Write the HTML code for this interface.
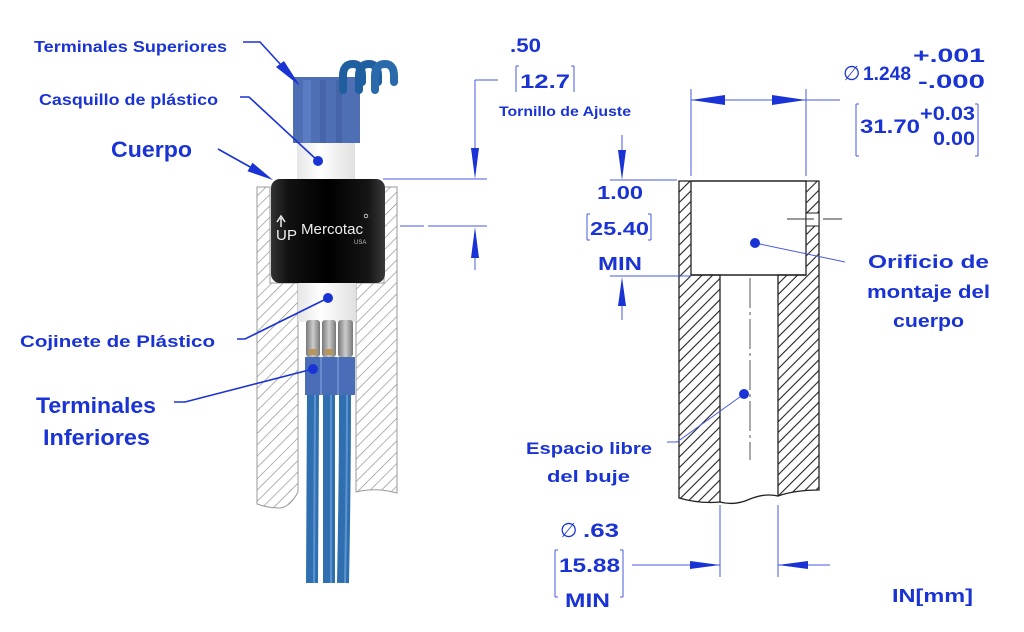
<!DOCTYPE html>
<html><head><meta charset="utf-8"><style>
html,body{margin:0;padding:0;background:#fff;}
svg{display:block;}
text{font-family:"Liberation Sans",sans-serif;font-weight:bold;fill:#1a33d4;}
</style></head><body>
<svg width="1024" height="632" viewBox="0 0 1024 632" xmlns="http://www.w3.org/2000/svg">
<defs>
<pattern id="hg" width="8" height="8" patternUnits="userSpaceOnUse" patternTransform="rotate(45)">
<rect width="8" height="8" fill="#fff"/><line x1="0" y1="0" x2="0" y2="8" stroke="#8a8a8a" stroke-width="1.3"/></pattern>
<pattern id="hb" width="7.5" height="7.5" patternUnits="userSpaceOnUse" patternTransform="rotate(45)">
<rect width="7.5" height="7.5" fill="#fff"/><line x1="1" y1="0" x2="1" y2="7.5" stroke="#222" stroke-width="1.1"/></pattern>
<linearGradient id="blk" x1="0" x2="1"><stop offset="0" stop-color="#333"/><stop offset="0.15" stop-color="#111"/><stop offset="0.5" stop-color="#000"/><stop offset="0.85" stop-color="#151515"/><stop offset="1" stop-color="#3a3a3a"/></linearGradient>
<linearGradient id="wht" x1="0" x2="1"><stop offset="0" stop-color="#e6e6e6"/><stop offset="0.4" stop-color="#fff"/><stop offset="1" stop-color="#e0e0e0"/></linearGradient>
<linearGradient id="gry" x1="0" x2="1"><stop offset="0" stop-color="#777"/><stop offset="0.5" stop-color="#ccc"/><stop offset="1" stop-color="#777"/></linearGradient>
</defs>

<path d="M257,187 H270 V283 H298 V492 Q290,507 280,508 Q268,508 257,504 Z" fill="url(#hg)" stroke="#999" stroke-width="1"/>
<path d="M384,187 H397 V493 Q376,487 356,492 V283 H384 Z" fill="url(#hg)" stroke="#999" stroke-width="1"/>
<rect x="297" y="138" width="58" height="45" fill="url(#wht)"/>
<rect x="298" y="280" width="58" height="42" fill="url(#wht)"/>
<rect x="293" y="77" width="67" height="66" fill="#4f6fb4"/>
<rect x="303" y="80" width="8" height="63" fill="#5a7cc2"/>
<rect x="320" y="80" width="6" height="63" fill="#4565a8"/>
<rect x="336" y="80" width="6" height="63" fill="#4565a8"/>
<path d="M343,90 V76 Q343,64 353,64 Q362,64 362,76 V82" fill="none" stroke="#1f5f9f" stroke-width="8" stroke-linecap="round"/>
<path d="M359,90 V76 Q359,64 369,64 Q378,64 378,76 V82" fill="none" stroke="#1f5f9f" stroke-width="8" stroke-linecap="round"/>
<path d="M375,90 V76 Q375,64 385,64 Q394,64 394,76 V82" fill="none" stroke="#2a6aaa" stroke-width="8" stroke-linecap="round"/>
<rect x="271" y="179" width="114" height="104" rx="9" fill="url(#blk)"/>
<text x="276" y="240" style="fill:#eee;font-weight:normal;font-size:15px">U</text>
<text x="287" y="240" style="fill:#eee;font-weight:normal;font-size:15px">P</text>
<path d="M281,227 V218 M277,222 L281,216 L285,222" stroke="#eee" stroke-width="1.5" fill="none"/>
<text x="301" y="234" style="fill:#eee;font-weight:normal;font-size:15px" textLength="62" lengthAdjust="spacingAndGlyphs">Mercotac</text>
<text x="354" y="244" style="fill:#bbb;font-weight:normal;font-size:6px">USA</text>
<circle cx="366" cy="216" r="1.8" fill="none" stroke="#ddd" stroke-width="0.8"/>
<rect x="306" y="320" width="14" height="37" rx="3" fill="url(#gry)"/>
<rect x="322" y="320" width="14" height="37" rx="3" fill="url(#gry)"/>
<rect x="338" y="320" width="15" height="37" rx="3" fill="url(#gry)"/>
<rect x="309" y="349" width="8" height="6" fill="#b8955a"/><rect x="325" y="349" width="8" height="6" fill="#b8955a"/>
<rect x="305" y="357" width="50" height="38" fill="#4a6db8"/>
<line x1="321" y1="357" x2="321" y2="395" stroke="#6a8ccc" stroke-width="2"/>
<line x1="338" y1="357" x2="338" y2="395" stroke="#6a8ccc" stroke-width="2"/>
<path d="M313,395 L312,583" stroke="#2f6fb0" stroke-width="12"/>
<path d="M329,395 L329,583" stroke="#2f6fb0" stroke-width="12"/>
<path d="M345,395 Q345,480 343,583" stroke="#2f6fb0" stroke-width="12" fill="none"/>
<path d="M315,395 L314,583 M331,395 L331,583 M347,395 Q347,480 345,583" stroke="#5a93d0" stroke-width="2" fill="none"/>

<g stroke="#1a33d4" stroke-width="1.6" fill="none">
<path d="M243,42 H260 L282,66"/>
<path d="M240,97 H249 L318,161"/>
<path d="M218,149 L252,168"/>
<path d="M237,339 H245 L328,298"/>
<path d="M174,402 H185 L313,369"/>
</g>
<polygon points="300,86 284,61 276,67" fill="#1a33d4"/>
<polygon points="273,180 252.5,162.7 247.5,171.3" fill="#1a33d4"/>
<circle cx="318" cy="161" r="5" fill="#1a33d4"/>
<circle cx="328" cy="298" r="5" fill="#1a33d4"/>
<circle cx="313" cy="369" r="5" fill="#1a33d4"/>
<text x="34" y="52" font-size="16" textLength="193" lengthAdjust="spacingAndGlyphs">Terminales Superiores</text>
<text x="39" y="105" font-size="16" textLength="179" lengthAdjust="spacingAndGlyphs">Casquillo de plástico</text>
<text x="111" y="157" font-size="22" textLength="81" lengthAdjust="spacingAndGlyphs">Cuerpo</text>
<text x="20" y="347" font-size="17" textLength="195" lengthAdjust="spacingAndGlyphs">Cojinete de Plástico</text>
<text x="36" y="413" font-size="22" textLength="120" lengthAdjust="spacingAndGlyphs">Terminales</text>
<text x="43" y="445" font-size="22" textLength="107" lengthAdjust="spacingAndGlyphs">Inferiores</text>

<g stroke="#4a5ae0" stroke-width="1" fill="none">
<path d="M475,80 H498 M475,80 V160"/>
<path d="M383,179 H487"/>
<path d="M428,226 H487 M400,226 H424"/>
<path d="M475,245 V270"/>
<path d="M516,66 V92 M516,66 H519 M574,66 V92 M574,66 H571"/>
</g>
<polygon points="471,148 479,148 475,179" fill="#1a33d4"/>
<polygon points="471,258 479,258 475,227" fill="#1a33d4"/>
<text x="510" y="52" font-size="19" textLength="31" lengthAdjust="spacingAndGlyphs">.50</text>
<text x="520" y="88" font-size="19" textLength="50" lengthAdjust="spacingAndGlyphs">12.7</text>
<text x="499" y="116" font-size="14" textLength="132" lengthAdjust="spacingAndGlyphs">Tornillo de Ajuste</text>

<path d="M679,181 H691 V275 H720 V502 Q700,504 679,498 Z" fill="url(#hb)" stroke="#222" stroke-width="1.3"/>
<path d="M806,181 H819 V490 Q795,490 778,496 V275 H806 Z" fill="url(#hb)" stroke="#222" stroke-width="1.3"/>
<rect x="806" y="213" width="13" height="13" fill="#fff" stroke="#222" stroke-width="1"/>
<path d="M691,181 H806" stroke="#222" stroke-width="1.5"/>
<path d="M691,275 H806" stroke="#222" stroke-width="1.5"/>
<path d="M720,502 Q735,506 750,499 Q765,493 778,496" stroke="#222" stroke-width="1.3" fill="none"/>
<path d="M787,219 H814 M823,219 H842" stroke="#333" stroke-width="1"/>
<path d="M750,278 V460" stroke="#555" stroke-width="1" stroke-dasharray="30,4,3,4"/>

<g stroke="#4a5ae0" stroke-width="1" fill="none">
<path d="M691,89 V176 M806,89 V176 M691,100 H840"/>
<path d="M622,135 V160 M610,180 H677 M610,276 H691 M622,290 V320"/>
<path d="M720,505 V577 M778,505 V577 M632,565 H720 M778,565 H830"/>
<path d="M845,262 L755,243"/>
<path d="M667,442 H677 L744,394"/>
<path d="M587,214 V240 M587,214 H590 M587,240 H590 M651,214 V240 M651,214 H648 M651,240 H648"/>
<path d="M856,104 V156 M856,104 H859 M856,156 H859 M978,104 V156 M978,104 H975 M978,156 H975"/>
<path d="M555,550 V597 M555,550 H558 M555,597 H558 M623,550 V597 M623,550 H620 M623,597 H620"/>
</g>
<polygon points="691,100 725,95 725,105" fill="#1a33d4"/>
<polygon points="806,100 772,95 772,105" fill="#1a33d4"/>
<polygon points="618,150 626,150 622,180" fill="#1a33d4"/>
<polygon points="618,306 626,306 622,277" fill="#1a33d4"/>
<polygon points="720,565 690,561 690,569" fill="#1a33d4"/>
<polygon points="778,565 808,561 808,569" fill="#1a33d4"/>
<circle cx="755" cy="243" r="5" fill="#1a33d4"/>
<circle cx="744" cy="394" r="5" fill="#1a33d4"/>

<text x="597" y="199" font-size="18" textLength="46" lengthAdjust="spacingAndGlyphs">1.00</text>
<text x="590" y="235" font-size="18" textLength="59" lengthAdjust="spacingAndGlyphs">25.40</text>
<text x="598" y="270" font-size="18" textLength="44" lengthAdjust="spacingAndGlyphs">MIN</text>
<text x="843" y="80" font-size="20" style="font-weight:normal">∅</text>
<text x="863" y="80" font-size="19" textLength="48" lengthAdjust="spacingAndGlyphs">1.248</text>
<text x="913" y="62" font-size="19" textLength="72" lengthAdjust="spacingAndGlyphs">+.001</text>
<text x="918" y="88" font-size="19" textLength="67" lengthAdjust="spacingAndGlyphs">-.000</text>
<text x="860" y="133" font-size="19" textLength="60" lengthAdjust="spacingAndGlyphs">31.70</text>
<text x="920" y="120" font-size="19" textLength="55" lengthAdjust="spacingAndGlyphs">+0.03</text>
<text x="933" y="145" font-size="19" textLength="42" lengthAdjust="spacingAndGlyphs">0.00</text>
<text x="868" y="268" font-size="18" textLength="121" lengthAdjust="spacingAndGlyphs">Orificio de</text>
<text x="867" y="298" font-size="18" textLength="123" lengthAdjust="spacingAndGlyphs">montaje del</text>
<text x="893" y="327" font-size="18" textLength="71" lengthAdjust="spacingAndGlyphs">cuerpo</text>
<text x="526" y="454" font-size="17" textLength="126" lengthAdjust="spacingAndGlyphs">Espacio libre</text>
<text x="547" y="482" font-size="17" textLength="83" lengthAdjust="spacingAndGlyphs">del buje</text>
<text x="560" y="537" font-size="20" style="font-weight:normal">∅</text>
<text x="583" y="537" font-size="19" textLength="36" lengthAdjust="spacingAndGlyphs">.63</text>
<text x="559" y="572" font-size="19" textLength="61" lengthAdjust="spacingAndGlyphs">15.88</text>
<text x="565" y="607" font-size="19" textLength="45" lengthAdjust="spacingAndGlyphs">MIN</text>
<text x="892" y="602" font-size="18" textLength="81" lengthAdjust="spacingAndGlyphs">IN[mm]</text>
</svg>
</body></html>
